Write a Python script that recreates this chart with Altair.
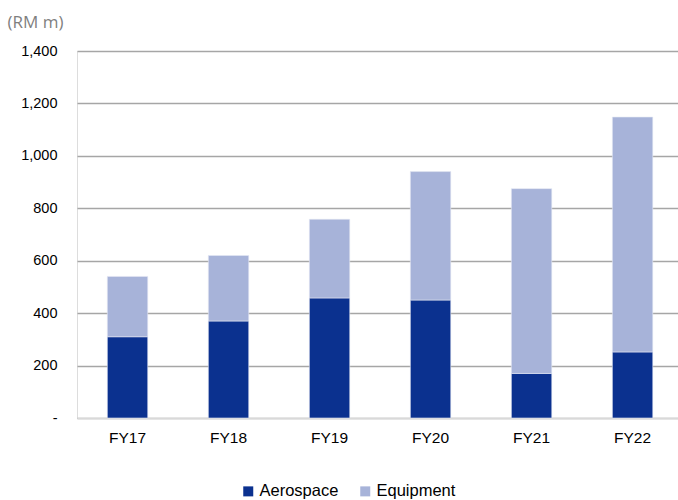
import altair as alt
import pandas as pd

years = ["FY17", "FY18", "FY19", "FY20", "FY21", "FY22"]
aerospace = [310, 370, 458, 450, 170, 252]
equipment = [230, 250, 300, 490, 705, 896]
segments = ["Aerospace", "Equipment"]
colors = ["#0B318F", "#A7B3D9"]
y_ticks = [0, 200, 400, 600, 800, 1000, 1200, 1400]

rows = []
for i, fy in enumerate(years):
    rows.append({"year": fy, "segment": "Aerospace", "order": 0, "value": aerospace[i]})
    rows.append({"year": fy, "segment": "Equipment", "order": 1, "value": equipment[i]})
df = pd.DataFrame(rows)

# zero is shown as an accounting-style dash
y_label_expr = "datum.value == 0 ? '-\u00a0\u00a0' : format(datum.value, ',')"

chart = (
    alt.Chart(df)
    .mark_bar(stroke="#E4E8F4", strokeWidth=0.6)
    .encode(
        x=alt.X(
            "year:N",
            sort=years,
            scale=alt.Scale(paddingInner=0.6, paddingOuter=0.275, align=0.546),
            axis=alt.Axis(
                title=None,
                labelAngle=0,
                labelFont="Liberation Sans",
                labelFontSize=15.5,
                labelColor="#000000",
                labelPadding=12,
                ticks=False,
                domain=True,
                domainColor="#D9D9D9",
                domainWidth=1.5,
                grid=False,
            ),
        ),
        y=alt.Y(
            "value:Q",
            stack="zero",
            scale=alt.Scale(domain=[0, 1400], nice=False),
            axis=alt.Axis(
                values=y_ticks,
                labelExpr=y_label_expr,
                title="(RM m)",
                titleAngle=0,
                titleAlign="left",
                titleBaseline="middle",
                titleX=-70,
                titleY=-29,
                titleFont="Open Sans",
                titleFontSize=17,
                titleFontWeight="normal",
                titleColor="#7F7F7F",
                labelFont="Liberation Sans",
                labelFontSize=14.5,
                labelColor="#000000",
                labelPadding=20,
                ticks=False,
                domain=False,
                grid=True,
                gridColor="#A6A6A6",
                gridWidth=1.4,
            ),
        ),
        color=alt.Color(
            "segment:N",
            scale=alt.Scale(domain=segments, range=colors),
            legend=alt.Legend(
                title=None,
                orient="none",
                direction="horizontal",
                legendX=163,
                legendY=432,
                symbolType="square",
                symbolSize=100,
                symbolStrokeWidth=0,
                symbolOpacity=1,
                labelFont="Liberation Sans",
                labelFontSize=16.5,
                labelColor="#000000",
                labelOffset=3,
                columnPadding=18,
            ),
        ),
        order=alt.Order("order:Q"),
    )
    .properties(
        width=601,
        height=367,
        autosize=alt.AutoSizeParams(type="none"),
        padding={"left": 77, "top": 51, "right": 0, "bottom": 82},
    )
    .configure_view(stroke=None)
    .configure(background="#FFFFFF")
)

chart.save("out.html", embed_options={"renderer": "svg", "actions": False})
